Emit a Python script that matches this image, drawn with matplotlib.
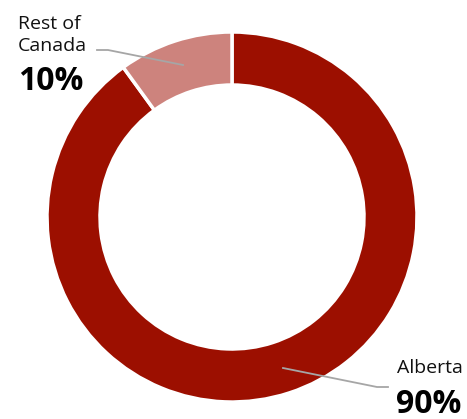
import matplotlib
matplotlib.use("Agg")
from matplotlib import pyplot as plt

labels = ["Alberta", "Rest of\nCanada"]
shares = [90, 10]
colors = ["#9c0f00", "#cd837d"]

plt.rcParams["font.family"] = ["Open Sans", "DejaVu Sans"]

fig = plt.figure(figsize=(4.67, 4.19), dpi=100)
ax = fig.add_axes([0, 0, 1, 1])

ax.pie(shares, colors=colors, startangle=90, counterclock=False,
       radius=185, center=(232, 202),
       wedgeprops=dict(width=53, edgecolor="white", linewidth=2.5))

# pie resets the limits, so set the pixel frame afterwards
ax.set_xlim(0, 467)
ax.set_ylim(0, 419)
ax.set_aspect("equal")
ax.axis("off")

# leader lines (pixel coords, y up)
ax.plot([183, 108, 97], [419 - 65, 419 - 50, 419 - 50], color="#a6a6a6", lw=1.3)
ax.plot([283, 377, 388], [419 - 368, 419 - 387, 419 - 387], color="#a6a6a6", lw=1.3)

ax.text(18, 419 - 35, labels[1], fontsize=14, color="#111111",
        ha="left", va="center", linespacing=1.35)
ax.text(18, 419 - 81, f"{shares[1]}%", fontsize=23, fontweight="bold",
        color="black", ha="left", va="center")
ax.text(397, 419 - 368, labels[0], fontsize=14, color="#111111",
        ha="left", va="center")
ax.text(396, 419 - 404, f"{shares[0]}%", fontsize=23, fontweight="bold",
        color="black", ha="left", va="center")

fig.savefig("out.png", dpi=100)
